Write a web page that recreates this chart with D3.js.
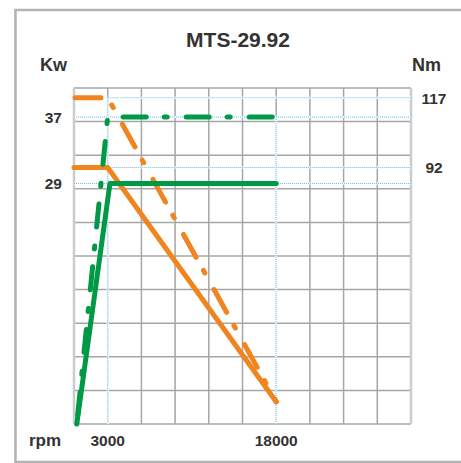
<!DOCTYPE html>
<html>
<head>
<meta charset="utf-8">
<script src="https://cdn.jsdelivr.net/npm/d3@7"></script>
<style>
  body { margin: 0; background: #fff; }
  text { font-family: "Liberation Sans", Arial, sans-serif; font-weight: bold; fill: #333; }
</style>
</head>
<body>
<svg id="chart" width="461" height="463"></svg>
<script>
// data
const title = "MTS-29.92";
const rpmTicks = [3000, 18000];
const kwTicks = [37, 29];
const nmTicks = [117, 92];

// [rpm, value]
const powerPeak = [[250, 0], [3000, 37], [18000, 37]];   // Kw, dash-dot
const powerCont = [[250, 0], [3200, 29], [18000, 29]];   // Kw, solid
const torquePeak = [[0, 117], [3000, 117], [18000, 8]];  // Nm, dash-dot
const torqueCont = [[0, 92], [3000, 92], [18000, 8]];    // Nm, solid

const green = "#009a46";
const orange = "#f0841f";
const blue = "#5cbfee";

let svg = d3.select("#chart");
let plot = { left: 74, right: 411, top: 88, bottom: 424 };

let x = d3.scaleLinear().domain([0, 30000]).range([plot.left, plot.right]);
let yKw = d3.scaleLinear().domain([0, 40.5]).range([plot.bottom, plot.top]);
let yNm = d3.scaleLinear().domain([0, 120.5]).range([plot.bottom, plot.top]);
let row = d3.scaleLinear().domain([0, 10]).range([plot.bottom, plot.top]);

// outer frame
svg.append("rect")
  .attr("x", 15.5).attr("y", 10)
  .attr("width", 470).attr("height", 452)
  .attr("fill", "none")
  .attr("stroke", "#b3b3b3")
  .attr("stroke-width", 2.5);

// grid
let grid = svg.append("g").attr("stroke", "#a6a6a6").attr("stroke-width", 1.5);
grid.selectAll(".v")
  .data(d3.range(1, 10))
  .enter()
  .append("line")
  .attr("x1", d => x(d * 3000)).attr("x2", d => x(d * 3000))
  .attr("y1", plot.top).attr("y2", plot.bottom);
grid.selectAll(".h")
  .data(d3.range(0, 11))
  .enter()
  .append("line")
  .attr("x1", plot.left).attr("x2", plot.right)
  .attr("y1", d => row(d)).attr("y2", d => row(d));
// side borders are lighter
svg.selectAll(".side")
  .data([plot.left, plot.right])
  .enter()
  .append("line")
  .attr("x1", d => d).attr("x2", d => d)
  .attr("y1", plot.top).attr("y2", plot.bottom)
  .attr("stroke", "#cccccc")
  .attr("stroke-width", 2.5);

// blue dotted reference lines
function refLine(x1, y1, x2, y2) {
  svg.append("line")
    .attr("x1", x1).attr("y1", y1).attr("x2", x2).attr("y2", y2)
    .attr("stroke", "#fff").attr("stroke-width", 2);
  svg.append("line")
    .attr("x1", x1).attr("y1", y1).attr("x2", x2).attr("y2", y2)
    .attr("stroke", blue).attr("stroke-width", 1)
    .attr("stroke-dasharray", "1,1");
}
refLine(x(rpmTicks[0]), yNm(nmTicks[0]), x(rpmTicks[0]), plot.bottom);
refLine(x(rpmTicks[1]), yKw(kwTicks[0]), x(rpmTicks[1]), plot.bottom);
kwTicks.forEach(k => refLine(plot.left, yKw(k), plot.right, yKw(k)));
nmTicks.forEach(n => refLine(x(rpmTicks[0]), yNm(n), plot.right, yNm(n)));

// curves
let lineKw = d3.line().x(d => x(d[0])).y(d => yKw(d[1]));
let lineNm = d3.line().x(d => x(d[0])).y(d => yNm(d[1]));

function curve(data, gen, color, dash, offset) {
  svg.append("path")
    .attr("d", gen(data))
    .attr("fill", "none")
    .attr("stroke", color)
    .attr("stroke-width", 5)
    .attr("stroke-linecap", "round")
    .attr("stroke-linejoin", "round")
    .attr("stroke-dasharray", dash)
    .attr("stroke-dashoffset", offset || 0);
}
curve(torqueCont, lineNm, orange, null);
curve(torquePeak, lineNm, orange, "26,15,3,19", -1);
curve(powerCont, lineKw, green, null);
curve(powerPeak, lineKw, green, "23,18,3,19", 54);

// texts
svg.append("text")
  .attr("x", 238).attr("y", 47)
  .attr("text-anchor", "middle")
  .attr("font-size", 21)
  .text(title);
svg.append("text").attr("x", 40).attr("y", 71).attr("font-size", 18).text("Kw");
svg.append("text").attr("x", 412).attr("y", 71).attr("font-size", 18).text("Nm");
svg.append("text").attr("x", 29).attr("y", 446).attr("font-size", 17).text("rpm");

svg.selectAll(".kw")
  .data(kwTicks)
  .enter()
  .append("text")
  .attr("x", 62).attr("y", d => yKw(d) + 6)
  .attr("text-anchor", "end")
  .attr("font-size", 15.5)
  .text(d => d);
svg.selectAll(".nm")
  .data(nmTicks)
  .enter()
  .append("text")
  .attr("x", 434).attr("y", d => yNm(d) + 6)
  .attr("text-anchor", "middle")
  .attr("font-size", 15.5)
  .text(d => d);
svg.selectAll(".rpm")
  .data(rpmTicks)
  .enter()
  .append("text")
  .attr("x", d => x(d)).attr("y", 446)
  .attr("text-anchor", "middle")
  .attr("font-size", 15.5)
  .text(d => d);
</script>
</body>
</html>
